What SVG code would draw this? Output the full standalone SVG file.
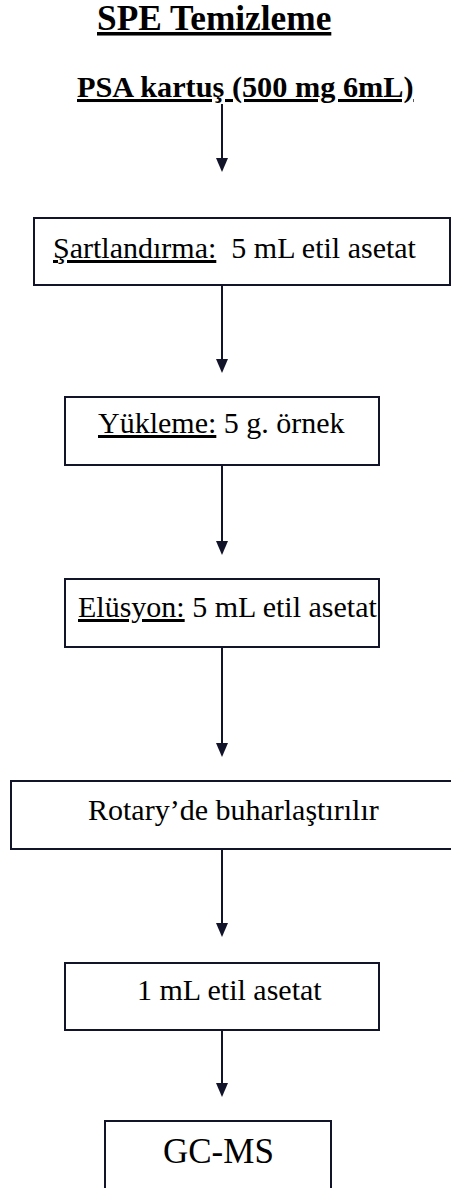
<svg xmlns="http://www.w3.org/2000/svg" width="451" height="1188" viewBox="0 0 451 1188">
<style>
text{font-family:"Liberation Serif","Times New Roman",serif;fill:#000;white-space:pre;}
.b{font-weight:bold;}
.u{text-decoration:underline;}
.box{fill:#fff;stroke:#12142a;stroke-width:2;}
.ln{stroke:#12142a;stroke-width:2;fill:none;}
.ah{fill:#12142a;}
</style>
<rect width="451" height="1188" fill="#fff"/>
<g id="title"><text x="97" y="30" class="b u" font-size="35.3">SPE Temizleme</text></g>
<g id="psa"><text x="77" y="97" class="b u" font-size="30.3">PSA kartuş (500 mg 6mL)</text></g>
<g id="connectors">
<path class="ln" d="M222 104 V158"/><polygon class="ah" points="216,158 228,158 222,172"/>
<path class="ln" d="M222 285 V359"/><polygon class="ah" points="216,359 228,359 222,373"/>
<path class="ln" d="M222 465 V541"/><polygon class="ah" points="216,541 228,541 222,555"/>
<path class="ln" d="M222 647 V743"/><polygon class="ah" points="216,743 228,743 222,757"/>
<path class="ln" d="M222 849 V923"/><polygon class="ah" points="216,923 228,923 222,937"/>
<path class="ln" d="M222 1030 V1083"/><polygon class="ah" points="216,1083 228,1083 222,1097"/>
</g>
<g id="n1"><rect class="box" x="34" y="218" width="416" height="67"/><text x="53" y="258" font-size="30" xml:space="preserve"><tspan class="u">Şartlandırma:</tspan>  5 mL etil asetat</text></g>
<g id="n2"><rect class="box" x="65" y="397" width="314" height="68"/><text x="98" y="433" font-size="30"><tspan class="u">Yükleme:</tspan> 5 g. örnek</text></g>
<g id="n3"><rect class="box" x="65" y="579" width="314" height="68"/><text x="78" y="617" font-size="30"><tspan class="u">Elüsyon:</tspan> 5 mL etil asetat</text></g>
<g id="n4"><rect class="box" x="11" y="781" width="445" height="68"/><text x="88" y="820" font-size="30">Rotary’de buharlaştırılır</text></g>
<g id="n5"><rect class="box" x="65" y="963" width="314" height="67"/><text x="137" y="1000" font-size="30">1 mL etil asetat</text></g>
<g id="n6"><rect class="box" x="105" y="1121" width="226" height="80"/><text x="163" y="1163" font-size="35">GC-MS</text></g>
</svg>
